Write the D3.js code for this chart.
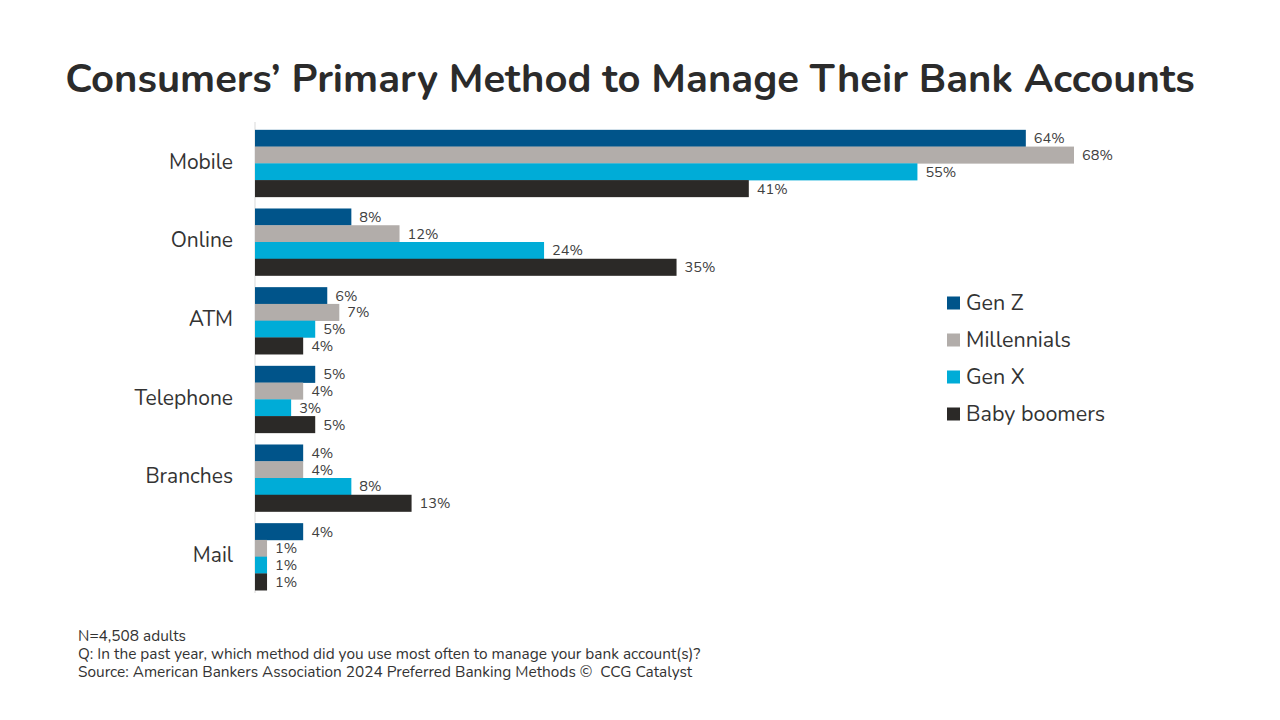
<!DOCTYPE html>
<html>
<head>
<meta charset="utf-8">
<script src="https://cdn.jsdelivr.net/npm/d3@7"></script>
<style>
  body { margin: 0; background: #fff; }
  text { font-family: "Nunito", "Lato", "Noto Sans", sans-serif; }
</style>
</head>
<body>
<div id="chart"></div>
<script>
// chart data
const categories = ['Mobile', 'Online', 'ATM', 'Telephone', 'Branches', 'Mail'];
const seriesNames = ['Gen Z', 'Millennials', 'Gen X', 'Baby boomers'];
const genZ = [64, 8, 6, 5, 4, 4];
const millennials = [68, 12, 7, 4, 4, 1];
const genX = [55, 24, 5, 3, 8, 1];
const boomers = [41, 35, 4, 5, 13, 1];
const seriesColors = ['#00548a', '#b2adaa', '#00acd7', '#2b2927'];
const footnotes = [
    'N=4,508 adults',
    'Q: In the past year, which method did you use most often to manage your bank account(s)?',
    'Source: American Bankers Association 2024 Preferred Banking Methods \u00A9  CCG Catalyst'
];

const seriesValues = [genZ, millennials, genX, boomers];

const width = 1280;
const height = 720;

const svg = d3.select('#chart').append('svg')
    .attr('width', width)
    .attr('height', height);

// title
svg.append('text')
    .attr('x', 630)
    .attr('y', 92)
    .attr('text-anchor', 'middle')
    .attr('font-size', 40)
    .attr('font-weight', 700)
    .attr('fill', '#2b2b2b')
    .text('Consumers\u2019 Primary Method to Manage Their Bank Accounts');

// scales
const x = d3.scaleLinear().domain([0, 68]).range([255, 1074]);
const y = d3.scaleBand().domain(categories).range([124, 596]).paddingInner(0.148).paddingOuter(0.074);
const ySub = d3.scaleBand().domain(seriesNames).range([0, y.bandwidth()]);

// axis line
svg.append('line')
    .attr('x1', x(0)).attr('x2', x(0))
    .attr('y1', 122).attr('y2', 593)
    .attr('stroke', '#d9d9d9')
    .attr('stroke-width', 1);

// category labels
svg.append('g').selectAll('text')
    .data(categories)
    .join('text')
    .attr('x', 233)
    .attr('y', d => y(d) + y.bandwidth() / 2 - 2)
    .attr('dy', '0.35em')
    .attr('text-anchor', 'end')
    .attr('font-size', 21)
    .attr('fill', '#333')
    .text(d => d);

// bars
seriesNames.forEach((name, si) => {
    const g = svg.append('g');
    const rows = categories.map((c, i) => ({ cat: c, value: seriesValues[si][i] }));

    g.selectAll('rect')
        .data(rows)
        .join('rect')
        .attr('x', x(0))
        .attr('y', d => y(d.cat) + ySub(name))
        .attr('width', d => x(d.value) - x(0))
        .attr('height', ySub.bandwidth() + 0.3)
        .attr('fill', seriesColors[si]);

    g.selectAll('text')
        .data(rows)
        .join('text')
        .attr('x', d => x(d.value) + 8)
        .attr('y', d => y(d.cat) + ySub(name) + ySub.bandwidth() / 2)
        .attr('dy', '0.35em')
        .attr('font-size', 14.5)
        .attr('fill', '#404040')
        .text(d => d.value + '%');
});

// legend
const legend = svg.append('g').attr('transform', 'translate(947, 303)');
seriesNames.forEach((name, i) => {
    legend.append('rect')
        .attr('x', 0)
        .attr('y', i * 37 - 6.5)
        .attr('width', 13)
        .attr('height', 13)
        .attr('fill', seriesColors[i]);
    legend.append('text')
        .attr('x', 19)
        .attr('y', i * 37 - 1)
        .attr('dy', '0.35em')
        .attr('font-size', 21.5)
        .attr('fill', '#333')
        .text(name);
});

// footnotes
svg.append('g').selectAll('text')
    .data(footnotes)
    .join('text')
    .attr('x', 78)
    .attr('y', (d, i) => 641 + i * 18)
    .attr('font-size', 15.4)
    .attr('fill', '#333')
    .style('white-space', 'pre')
    .text(d => d);
</script>
</body>
</html>
